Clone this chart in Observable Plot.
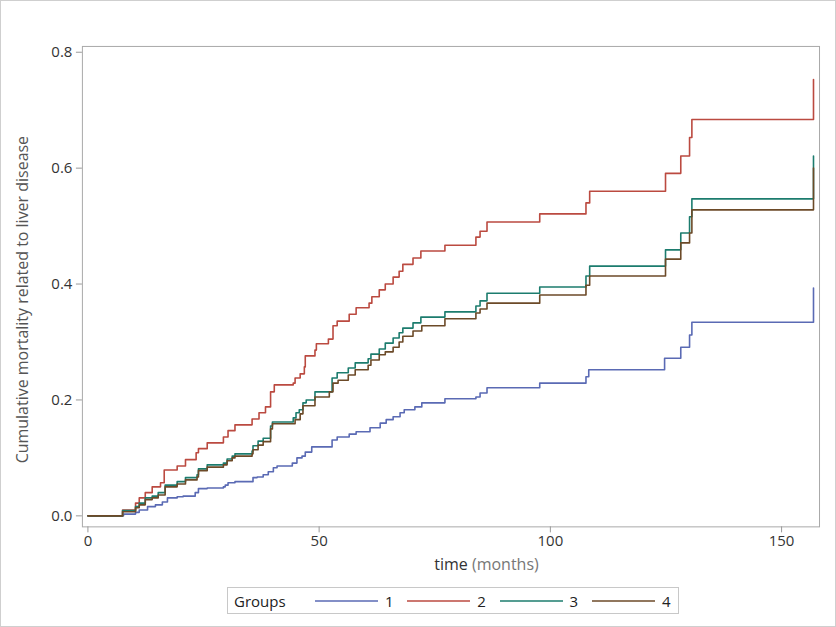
<!DOCTYPE html>
<html>
<head>
<meta charset="utf-8">
<script src="https://cdn.jsdelivr.net/npm/d3@7"></script>
<script src="https://cdn.jsdelivr.net/npm/@observablehq/plot@0.6"></script>
<style>
  html, body { margin: 0; padding: 0; background: #fff; }
  #page { position: relative; width: 836px; height: 627px; box-sizing: border-box; border: 1px solid #cfcfcf; overflow: hidden; font-family: "Open Sans", sans-serif; }
  #chart { position: absolute; left: -1px; top: -1px; }
  #xlabel { position: absolute; top: 552px; font-size: 16px; color: #333; white-space: nowrap; }
  #xlabel .unit { color: #777; }
  #legend { position: absolute; left: 226px; top: 586px; width: 452px; height: 27px; box-sizing: border-box; border: 1px solid #c8c8c8; font-size: 15px; color: #222; }
  #legend .item { position: absolute; top: 3px; white-space: nowrap; }
</style>
</head>
<body>
<div id="page">
  <div id="chart"></div>
  <div id="xlabel"><span>time</span> <span class="unit">(months)</span></div>
  <div id="legend"></div>
</div>
<script>
// ---- Data ----
const groups = ["1", "2", "3", "4"];
const groupColors = ["#5a6ab4", "#bb4a40", "#1c7c6e", "#6c4a28"];
const legendTitle = "Groups";
const xLabel = "time";
const xUnit = "(months)";
const yLabel = "Cumulative mortality related to liver disease";
const xTicks = [0, 50, 100, 150];
const yTicks = [0, 0.2, 0.4, 0.6, 0.8];

// [time in months, cumulative mortality]
const group1 = [[0,0],[7.7,0.003],[10.3,0.006],[11.1,0.010],[12.9,0.016],[14.6,0.019],[16.1,0.024],[17.2,0.031],[19.3,0.033],[20.6,0.034],[23.2,0.040],[23.9,0.047],[25.8,0.048],[29.3,0.050],[29.7,0.053],[30.3,0.057],[31.8,0.059],[35.7,0.066],[36.6,0.067],[37.9,0.071],[39.0,0.076],[40.1,0.083],[40.9,0.086],[44.2,0.091],[45.2,0.100],[46.3,0.103],[47.0,0.110],[48.4,0.119],[52.8,0.131],[53.9,0.136],[56.5,0.141],[58.0,0.145],[61.0,0.152],[63.2,0.160],[64.5,0.166],[66.0,0.171],[67.5,0.178],[68.4,0.183],[70.7,0.188],[72.2,0.195],[77.2,0.202],[83.9,0.205],[84.8,0.212],[86.3,0.221],[97.7,0.229],[107.7,0.240],[108.3,0.252],[124.7,0.272],[128.2,0.291],[130.1,0.312],[130.6,0.334],[156.9,0.393]];

const group2 = [[0,0],[7.5,0.010],[10.3,0.022],[11.1,0.031],[12.4,0.040],[13.9,0.050],[15.7,0.057],[16.5,0.079],[19.3,0.086],[21.1,0.097],[23.4,0.109],[23.9,0.116],[25.8,0.126],[29.3,0.136],[30.3,0.147],[31.8,0.157],[35.5,0.167],[37.0,0.178],[38.4,0.188],[39.5,0.214],[40.3,0.226],[44.4,0.229],[44.8,0.238],[45.9,0.245],[46.8,0.257],[47.0,0.276],[49.1,0.286],[49.4,0.297],[52.0,0.305],[53.0,0.328],[53.9,0.336],[56.5,0.348],[58.0,0.359],[60.8,0.367],[61.4,0.378],[63.0,0.390],[64.3,0.400],[66.0,0.412],[67.3,0.422],[68.1,0.434],[70.3,0.445],[72.0,0.457],[77.2,0.467],[83.9,0.481],[84.8,0.491],[86.3,0.507],[97.7,0.521],[107.7,0.540],[108.5,0.560],[124.9,0.591],[128.2,0.621],[130.1,0.653],[130.6,0.684],[156.9,0.753]];

const group3 = [[0,0],[7.5,0.009],[10.3,0.016],[11.1,0.022],[12.4,0.031],[13.9,0.034],[15.2,0.040],[16.7,0.053],[19.3,0.059],[21.1,0.066],[23.6,0.071],[23.9,0.081],[25.8,0.088],[29.3,0.091],[30.1,0.098],[31.2,0.103],[31.8,0.107],[35.5,0.112],[35.7,0.121],[36.8,0.129],[37.9,0.134],[39.5,0.155],[39.9,0.162],[44.4,0.169],[45.0,0.178],[45.7,0.183],[46.5,0.195],[47.2,0.200],[49.1,0.214],[52.8,0.238],[53.9,0.247],[56.3,0.255],[57.8,0.264],[60.6,0.271],[61.2,0.279],[63.0,0.288],[64.3,0.298],[66.0,0.307],[67.3,0.316],[68.1,0.324],[70.3,0.333],[72.0,0.343],[77.2,0.352],[83.9,0.362],[84.8,0.371],[86.3,0.384],[97.7,0.395],[107.7,0.414],[108.5,0.431],[124.9,0.459],[128.2,0.488],[130.1,0.516],[130.6,0.547],[156.9,0.621]];

const group4 = [[0,0],[7.5,0.007],[10.3,0.014],[11.1,0.019],[12.4,0.028],[13.9,0.031],[15.2,0.036],[16.7,0.050],[19.3,0.055],[21.1,0.062],[23.6,0.067],[23.9,0.078],[25.8,0.084],[29.3,0.088],[30.1,0.095],[31.2,0.100],[31.8,0.103],[35.5,0.107],[35.7,0.114],[36.8,0.122],[37.9,0.128],[39.5,0.150],[39.9,0.159],[44.8,0.166],[45.9,0.176],[46.5,0.190],[49.1,0.205],[52.2,0.214],[53.0,0.229],[54.1,0.234],[56.3,0.243],[57.8,0.252],[60.6,0.260],[61.2,0.269],[63.0,0.278],[64.3,0.283],[66.0,0.291],[67.3,0.300],[68.1,0.310],[70.3,0.319],[72.2,0.328],[77.2,0.340],[83.9,0.350],[84.8,0.357],[86.3,0.367],[97.7,0.381],[107.7,0.398],[108.5,0.414],[124.9,0.443],[128.2,0.471],[130.1,0.488],[130.6,0.528],[156.9,0.600]];

// ---- Build table ----
const series = [group1, group2, group3, group4];
const rows = series.flatMap((s, i) => s.map(([t, v]) => ({ t, v, group: groups[i] })));

const W = 836, H = 580;
const mL = 82, mR = 16, mT = 46, mB = 53;

const chart = Plot.plot({
  width: W,
  height: H,
  marginLeft: mL,
  marginRight: mR,
  marginTop: mT,
  marginBottom: mB,
  style: { fontFamily: "'Open Sans', sans-serif", fontSize: "15px", color: "#333", background: "transparent", overflow: "visible" },
  x: { domain: [-1.19, 158.2] },
  y: { domain: [-0.019, 0.81] },
  color: { domain: groups, range: groupColors },
  marks: [
    Plot.frame({ stroke: "#a9a9a9" }),
    Plot.axisX({ ticks: xTicks, tickSize: 6, tickPadding: 3, label: null, stroke: "#999", fill: "#333", fontSize: 15 }),
    Plot.axisY({ ticks: yTicks, tickSize: 6, tickPadding: 4, tickFormat: d3.format(".1f"), label: null, stroke: "#999", fill: "#333", fontSize: 15 }),
    Plot.line(rows, { x: "t", y: "v", z: "group", stroke: "group", curve: "step-after", strokeWidth: 1.6 }),
    Plot.text([yLabel], { text: d => d, frameAnchor: "left", textAnchor: "middle", dx: -60, dy: 13, rotate: -90, fill: "#555", fontSize: 16 })
  ]
});
document.getElementById("chart").appendChild(chart);

// ---- x label: "time" centred on the frame, unit appended ----
const xl = document.getElementById("xlabel");
xl.children[0].textContent = xLabel;
xl.children[1].textContent = xUnit;
const timeW = xl.children[0].getBoundingClientRect().width;
xl.style.left = ((mL + (W - mR)) / 2 - timeW / 2 - 1) + "px";

// ---- legend ----
const lg = document.getElementById("legend");
const title = document.createElement("div");
title.className = "item";
title.style.left = "6px";
title.textContent = legendTitle;
lg.appendChild(title);
groups.forEach((g, i) => {
  const x0 = 87 + i * 92.3;
  const sw = document.createElementNS("http://www.w3.org/2000/svg", "svg");
  sw.setAttribute("width", 63);
  sw.setAttribute("height", 4);
  sw.style.position = "absolute";
  sw.style.left = x0 + "px";
  sw.style.top = "11px";
  const ln = document.createElementNS("http://www.w3.org/2000/svg", "line");
  ln.setAttribute("x1", 0); ln.setAttribute("x2", 63);
  ln.setAttribute("y1", 2); ln.setAttribute("y2", 2);
  ln.setAttribute("stroke", groupColors[i]);
  ln.setAttribute("stroke-width", 1.6);
  sw.appendChild(ln);
  lg.appendChild(sw);
  const lab = document.createElement("div");
  lab.className = "item";
  lab.style.left = (x0 + 70) + "px";
  lab.textContent = g;
  lg.appendChild(lab);
});
</script>
</body>
</html>
